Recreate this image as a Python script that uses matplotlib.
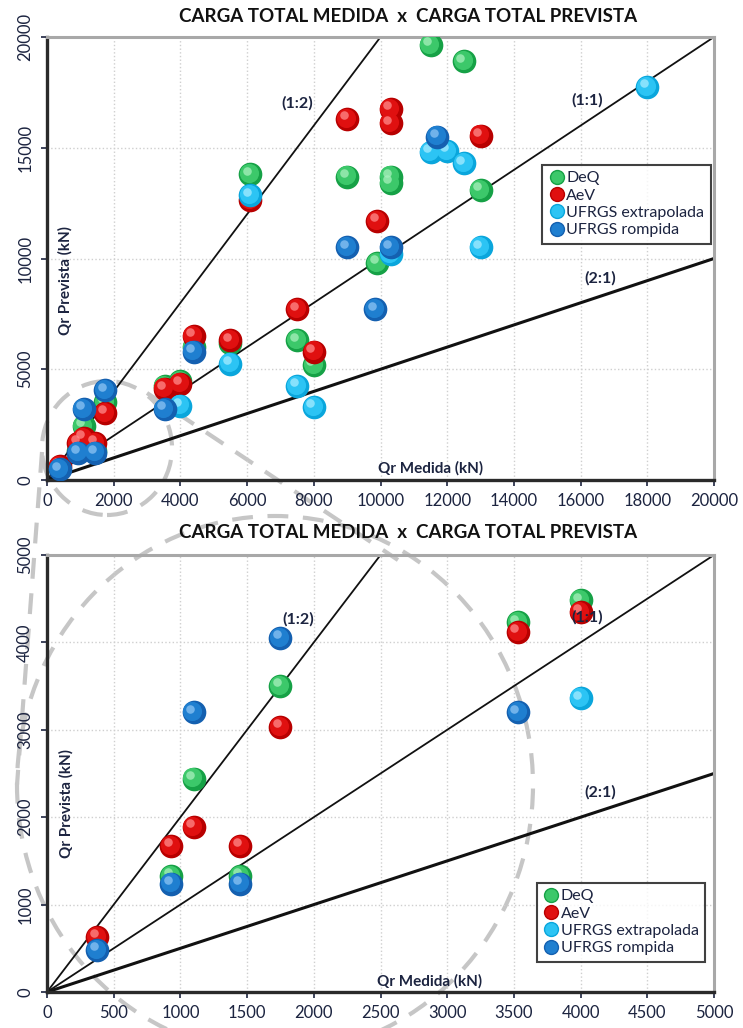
import numpy as np
import matplotlib.pyplot as plt
from matplotlib.patches import Ellipse
from matplotlib.lines import Line2D
from matplotlib.transforms import offset_copy

plt.rcParams['font.family'] = ['Lato', 'DejaVu Sans']

# Carga total (kN): medida (x) / prevista (y)
deq_med = [11500, 12500, 6100, 9000, 10300, 10300, 13000, 9900, 7500, 8000, 5500, 4400,
           3530, 4000, 1750, 1100, 930, 1450]
deq_prev = [19650, 18900, 13800, 13700, 13700, 13400, 13100, 9800, 6300, 5200, 6200, 6000,
            4230, 4480, 3500, 2440, 1330, 1330]

aev_med = [9000, 10300, 10300, 13000, 9900, 6100, 7500, 8000, 5500, 4400,
           3530, 4000, 1750, 1100, 930, 1450, 375]
aev_prev = [16300, 16750, 16100, 15550, 11700, 12650, 7700, 5800, 6300, 6500,
            4120, 4350, 3030, 1890, 1670, 1670, 630]

ext_med = [18000, 11500, 12000, 12500, 13000, 6100, 10300, 5500, 7500, 8000, 4000]
ext_prev = [17750, 14800, 14850, 14300, 10500, 12850, 10200, 5250, 4250, 3300, 3360]

rot_med = [11700, 9000, 10300, 9850, 4400, 3530, 1750, 1100, 930, 1450, 375]
rot_prev = [15500, 10500, 10500, 7700, 5800, 3200, 4050, 3200, 1240, 1240, 480]

series = [
    ("DeQ", deq_med, deq_prev, '#16a146', '#3cc86a', '#a8f0bd'),
    ("AeV", aev_med, aev_prev, '#b80000', '#e01010', '#ff8a8a'),
    ("UFRGS extrapolada", ext_med, ext_prev, '#0aa6dc', '#2cc4f4', '#a6ecff'),
    ("UFRGS rompida", rot_med, rot_prev, '#1460b0', '#1f7fd0', '#8cc4f4'),
]

W, H = 743, 1028
fig = plt.figure(figsize=(W / 100, H / 100), dpi=100)
txt_col = '#1c2440'


def panel(ax, lim, xstep, ystep, lbl, leg_anchor):
    ax.set_facecolor('none')
    xs = np.array([0, lim])
    ax.plot(xs, 2 * xs, color='#111111', lw=1.3, zorder=2)
    ax.plot(xs, xs, color='#111111', lw=1.3, zorder=2)
    ax.plot(xs, xs / 2, color='#111111', lw=2.2, zorder=2)
    for k, (name, mx, my, dark, mid, light) in enumerate(series):
        z = 3 + k
        ax.scatter(mx, my, s=290, color=dark, linewidths=0, zorder=z)
        t1 = offset_copy(ax.transData, fig=fig, x=-0.9, y=0.9, units='points')
        ax.scatter(mx, my, s=190, color=mid, linewidths=0, zorder=z, transform=t1)
        t2 = offset_copy(ax.transData, fig=fig, x=-2.5, y=2.7, units='points')
        ax.scatter(mx, my, s=38, color=light, alpha=0.75, linewidths=0, zorder=z, transform=t2)
    ax.set_xlim(0, lim)
    ax.set_ylim(0, lim)
    ax.set_xticks(np.arange(0, lim + 1, xstep))
    ax.set_yticks(np.arange(0, lim + 1, ystep))
    ax.grid(True, color='#cfcfcf', ls=':', lw=1.0, zorder=0)
    ax.tick_params(labelsize=12, colors=txt_col, length=4, width=1.2, direction='out')
    for t in ax.get_yticklabels():
        t.set_rotation(90)
        t.set_va('center')
    ax.tick_params(axis='x', pad=5)
    ax.tick_params(axis='y', pad=6)
    for s in ['left', 'bottom']:
        ax.spines[s].set_color('#2a2a2a')
        ax.spines[s].set_linewidth(2.4)
    for s in ['top', 'right']:
        ax.spines[s].set_color('#a8a8a8')
        ax.spines[s].set_linewidth(2.2)
    for text, (x, y) in lbl.items():
        rot = 90 if text.startswith('Qr Prev') else 0
        fs = 11 if text.startswith('Qr') else 11.5
        ax.text(x, y, text, fontsize=fs, fontweight='bold', color=txt_col,
                ha='center', va='center', rotation=rot, zorder=10)
    handles = [Line2D([], [], marker='o', ls='', color=mid, markeredgecolor=dark,
                      markersize=10, label=name) for name, _, _, dark, mid, _ in series]
    leg = ax.legend(handles=handles, loc='upper right', bbox_to_anchor=leg_anchor,
                    fontsize=11.5, frameon=True, fancybox=False, handletextpad=0.1,
                    labelspacing=0.2, borderpad=0.4, handlelength=1.0,
                    borderaxespad=0)
    leg.get_frame().set_edgecolor('#111111')
    leg.get_frame().set_linewidth(1.5)
    for t in leg.get_texts():
        t.set_color(txt_col)
    leg.set_zorder(20)


ax1 = fig.add_axes([47 / W, 1 - 480 / H, 667 / W, 443 / H])
panel(ax1, 20000, 2000, 5000,
      {'(1:2)': (7500, 17000), '(1:1)': (16200, 17150), '(2:1)': (16600, 9100),
       'Qr Medida (kN)': (11500, 540), 'Qr Prevista (kN)': (540, 9000)},
      (0.995, 0.712))

ax2 = fig.add_axes([47 / W, 1 - 992 / H, 667 / W, 437 / H])
panel(ax2, 5000, 500, 1000,
      {'(1:2)': (1880, 4260), '(1:1)': (4050, 4290), '(2:1)': (4150, 2280),
       'Qr Medida (kN)': (2870, 126), 'Qr Prevista (kN)': (142, 2160)},
      (0.987, 0.25))

title = 'CARGA TOTAL MEDIDA  x  CARGA TOTAL PREVISTA'
fig.text(408 / W, 1 - 16 / H, title, ha='center', va='center', fontsize=13.5,
         fontweight='bold', color='#111111')
fig.text(408 / W, 1 - 533 / H, title, ha='center', va='center', fontsize=13.5,
         fontweight='bold', color='#111111')

# llamada de zoom (elipses y lineas discontinuas)
dash = dict(facecolor='none', edgecolor='#c6c6c6', lw=3, ls=(0, (5, 3.5)),
            transform=fig.transFigure, zorder=-1)
fig.add_artist(Ellipse((107 / W, 1 - 448 / H), 130 / W, 134 / H, **dash))
fig.add_artist(Ellipse((275 / W, 1 - 785 / H), 516 / W, 538 / H, **dash))
for (xa, ya), (xb, yb) in [((147, 393), (398, 560)), ((42, 452), (17, 785))]:
    fig.add_artist(Line2D([xa / W, xb / W], [1 - ya / H, 1 - yb / H], color='#c6c6c6',
                          lw=3, ls=(0, (5, 3.5)), transform=fig.transFigure, zorder=-1))

fig.savefig('out.png', dpi=100, facecolor='white')
